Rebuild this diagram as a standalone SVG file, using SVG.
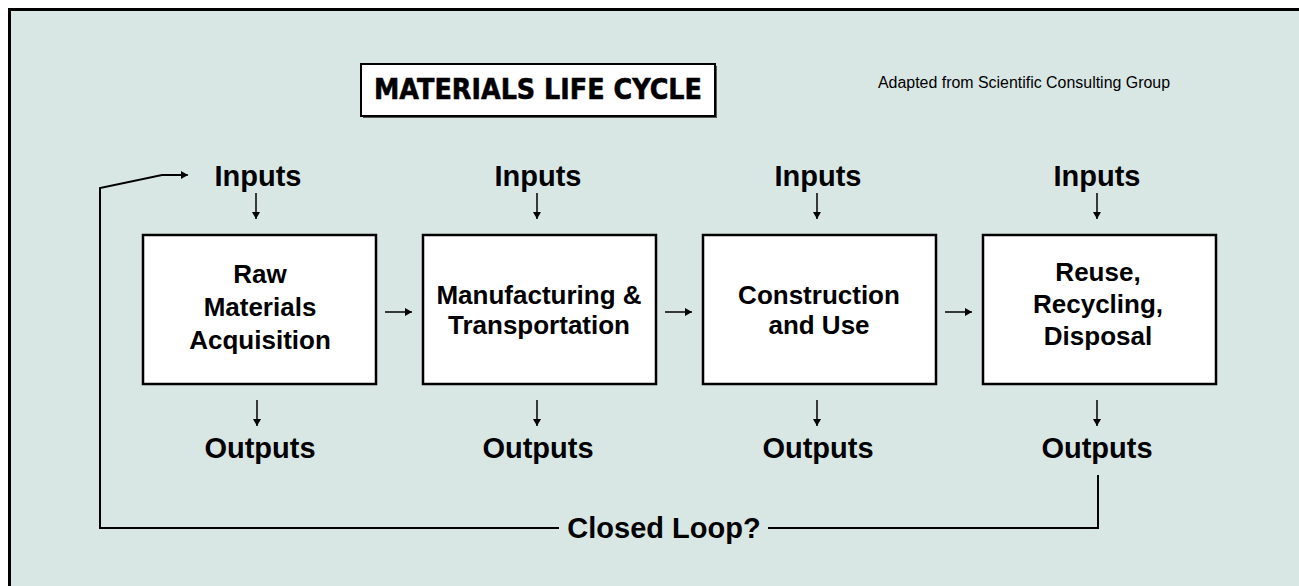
<svg xmlns="http://www.w3.org/2000/svg" width="1299" height="586" viewBox="0 0 1299 586">
<defs>
<marker id="ah" viewBox="0 0 7 8" refX="7" refY="4" markerWidth="7" markerHeight="8" markerUnits="userSpaceOnUse" orient="auto">
<path d="M0,0 L7,4 L0,8 z" fill="#000"/>
</marker>
<style>
.lbl{font-family:"Liberation Sans",Arial,sans-serif;font-weight:bold;font-size:29px;fill:#000;text-anchor:middle}
.box{fill:#fff;stroke:#000;stroke-width:2.5}
.bt{font-family:"Liberation Sans",Arial,sans-serif;font-weight:bold;font-size:26px;fill:#000;text-anchor:middle}
.arr{stroke:#000;stroke-width:1.5;fill:none;marker-end:url(#ah)}
.loop{stroke:#000;stroke-width:2;fill:none}
</style>
</defs>
<rect x="0" y="0" width="1299" height="586" fill="#fff"/>
<rect x="9.5" y="9.5" width="1300" height="600" fill="#d9e7e4" stroke="#000" stroke-width="3"/>

<g id="title">
<rect x="363" y="66" width="354" height="52" fill="#555"/>
<rect x="361" y="64" width="354" height="52" fill="#fff" stroke="#000" stroke-width="2"/>
<text x="538" y="99" font-family="'Comic Sans MS','DejaVu Sans',sans-serif" font-weight="bold" font-size="28" text-anchor="middle" textLength="328" lengthAdjust="spacingAndGlyphs" stroke="#000" stroke-width="0.6" stroke-linejoin="round">MATERIALS LIFE CYCLE</text>
</g>
<g id="source">
<text x="878" y="88" font-family="'Liberation Sans',Arial,sans-serif" font-size="16" fill="#000" textLength="292" lengthAdjust="spacingAndGlyphs">Adapted from Scientific Consulting Group</text>
</g>

<g id="node1">
<rect class="box" x="143" y="235" width="233" height="149"/>
<text class="bt" x="260" y="283">Raw</text>
<text class="bt" x="260" y="316">Materials</text>
<text class="bt" x="260" y="349">Acquisition</text>
</g>
<g id="node2">
<rect class="box" x="423" y="235" width="233" height="149"/>
<text class="bt" x="539" y="304">Manufacturing &amp;</text>
<text class="bt" x="539" y="334">Transportation</text>
</g>
<g id="node3">
<rect class="box" x="703" y="235" width="233" height="149"/>
<text class="bt" x="819" y="304">Construction</text>
<text class="bt" x="819" y="334">and Use</text>
</g>
<g id="node4">
<rect class="box" x="983" y="235" width="233" height="149"/>
<text class="bt" x="1098" y="281">Reuse,</text>
<text class="bt" x="1098" y="313">Recycling,</text>
<text class="bt" x="1098" y="345">Disposal</text>
</g>

<g id="inputs1"><text class="lbl" x="258" y="186">Inputs</text></g>
<g id="inputs2"><text class="lbl" x="538" y="186">Inputs</text></g>
<g id="inputs3"><text class="lbl" x="818" y="186">Inputs</text></g>
<g id="inputs4"><text class="lbl" x="1097" y="186">Inputs</text></g>

<g id="outputs1"><text class="lbl" x="260" y="458">Outputs</text></g>
<g id="outputs2"><text class="lbl" x="538" y="458">Outputs</text></g>
<g id="outputs3"><text class="lbl" x="818" y="458">Outputs</text></g>
<g id="outputs4"><text class="lbl" x="1097" y="458">Outputs</text></g>

<g id="closedloop"><text class="lbl" x="664" y="538">Closed Loop?</text></g>

<g id="connectors">
<line class="arr" x1="256" y1="193" x2="256" y2="219"/>
<line class="arr" x1="537" y1="193" x2="537" y2="219"/>
<line class="arr" x1="817" y1="193" x2="817" y2="219"/>
<line class="arr" x1="1097" y1="193" x2="1097" y2="219"/>

<line class="arr" x1="257" y1="400" x2="257" y2="426"/>
<line class="arr" x1="537" y1="400" x2="537" y2="426"/>
<line class="arr" x1="817" y1="400" x2="817" y2="426"/>
<line class="arr" x1="1097" y1="400" x2="1097" y2="426"/>

<line class="arr" x1="385" y1="312" x2="412" y2="312"/>
<line class="arr" x1="665" y1="312" x2="692" y2="312"/>
<line class="arr" x1="945" y1="312" x2="972" y2="312"/>

<polyline class="loop" points="559,528 100,528 100,188 162,175 181,175"/>
<line class="arr" x1="180" y1="175" x2="188" y2="175"/>
<polyline class="loop" points="768,528 1098,528 1098,475"/>
</g>
</svg>
